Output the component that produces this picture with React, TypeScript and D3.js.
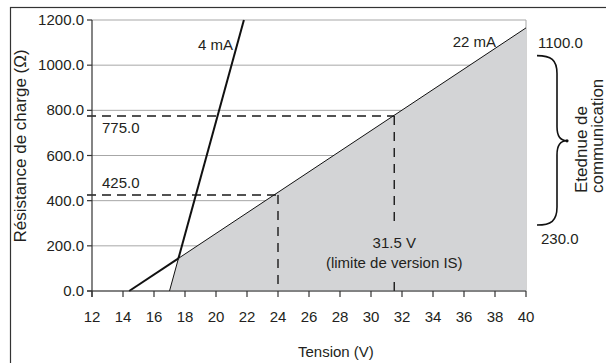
import React from "react";
import * as d3 from "d3";

// values
const xTicks = [12, 14, 16, 18, 20, 22, 24, 26, 28, 30, 32, 34, 36, 38, 40];
const yTicks = [0, 200, 400, 600, 800, 1000, 1200];
const line22mA = [
  { v: 14.4, r: 0 },
  { v: 40, r: 1165 },
];
const line4mA = [
  { v: 17, r: 0 },
  { v: 21.8, r: 1200 },
];
const markers = [
  { v: 24, r: 425, label: "425.0" },
  { v: 31.5, r: 775, label: "775.0" },
];
const commRange = [230, 1100];

const W = 606;
const H = 363;
const margin = { top: 20, right: 80, bottom: 72, left: 92 };
const FONT = "'Liberation Sans', Arial, sans-serif";
const TXT = "#231f20";

const App = () => {
  const x = d3
    .scaleLinear()
    .domain([12, 40])
    .range([margin.left, W - margin.right]);
  const y = d3
    .scaleLinear()
    .domain([0, 1200])
    .range([H - margin.bottom, margin.top]);

  // where the two lines cross
  const s22 = (line22mA[1].r - line22mA[0].r) / (line22mA[1].v - line22mA[0].v);
  const s4 = (line4mA[1].r - line4mA[0].r) / (line4mA[1].v - line4mA[0].v);
  const iv = (s22 * line22mA[0].v - s4 * line4mA[0].v) / (s22 - s4);
  const cross = { v: iv, r: s22 * (iv - line22mA[0].v) };

  const line = d3
    .line<{ v: number; r: number }>()
    .x((d) => x(d.v))
    .y((d) => y(d.r));

  const area = [line4mA[0], cross, line22mA[1], { v: 40, r: 0 }];

  const x0 = x(12);
  const x1 = x(40);
  const yb = y(0);

  // brace
  const bx = 537;
  const by0 = y(commRange[1]) + 13;
  const by1 = y(commRange[0]) - 14;
  const bm = y((commRange[0] + commRange[1]) / 2);
  const brace = `M${bx},${by0} C${bx + 14},${by0} ${bx + 20},${by0 + 4} ${bx + 20},${by0 + 18} L${bx + 20},${bm - 14} C${bx + 20},${bm - 4} ${bx + 24},${bm} ${bx + 30},${bm} C${bx + 24},${bm} ${bx + 20},${bm + 4} ${bx + 20},${bm + 14} L${bx + 20},${by1 - 18} C${bx + 20},${by1 - 4} ${bx + 14},${by1} ${bx},${by1}`;

  const isMark = markers[1];
  const dash = { stroke: "#1a1a1a", strokeWidth: 1.4, strokeDasharray: "9,6" };

  return (
    <svg
      width={W}
      height={H}
      style={{ position: "absolute", left: 0, top: 0, background: "#fff" }}
      fontFamily={FONT}
    >
      {/* outer frame */}
      <rect x={10.5} y={7.5} width={W} height={H} fill="none" stroke="#333" strokeWidth={1.2} />

      {/* grid */}
      {yTicks.map((t) => (
        <line key={"g" + t} x1={x0} x2={x1} y1={y(t)} y2={y(t)} stroke="#a7a7a7" strokeWidth={1} />
      ))}
      <line x1={x1} x2={x1} y1={y(1200)} y2={yb} stroke="#a7a7a7" strokeWidth={1} />

      {/* shaded operating region */}
      <path d={line(area) + "Z"} fill="#d3d4d6" />

      {/* dashed markers */}
      {markers.map((m) => (
        <line key={"h" + m.r} x1={x0 - 5} x2={x(m.v)} y1={y(m.r)} y2={y(m.r)} {...dash} />
      ))}
      <line x1={x(markers[0].v)} x2={x(markers[0].v)} y1={y(markers[0].r)} y2={yb} {...dash} strokeDasharray="9,7" />
      <line x1={x(isMark.v)} x2={x(isMark.v)} y1={y(isMark.r)} y2={228} {...dash} strokeDasharray="9,7" />
      <line x1={x(isMark.v)} x2={x(isMark.v)} y1={282} y2={yb} {...dash} strokeDasharray="none" />

      {/* lines */}
      <path d={line([line22mA[0], cross]) || ""} fill="none" stroke="#111" strokeWidth={2} />
      <path d={line([cross, line22mA[1]]) || ""} fill="none" stroke="#111" strokeWidth={1} />
      <path d={line([line4mA[0], cross]) || ""} fill="none" stroke="#111" strokeWidth={1} />
      <path d={line([cross, line4mA[1]]) || ""} fill="none" stroke="#111" strokeWidth={2} />

      {/* axes */}
      <line x1={x0} x2={x0} y1={y(1200)} y2={yb + 6} stroke="#333" strokeWidth={1.2} />
      <line x1={x0 - 5} x2={x1} y1={yb} y2={yb} stroke="#333" strokeWidth={1.2} />
      {yTicks.map((t) => (
        <g key={"y" + t}>
          <line x1={x0 - 5} x2={x0} y1={y(t)} y2={y(t)} stroke="#333" strokeWidth={1.2} />
          <text x={x0 - 8} y={y(t) + 5} textAnchor="end" fontSize={15} fill={TXT}>
            {t.toFixed(1)}
          </text>
        </g>
      ))}
      {xTicks.map((t) => (
        <g key={"x" + t}>
          <line x1={x(t)} x2={x(t)} y1={yb} y2={yb + 6} stroke="#333" strokeWidth={1.2} />
          <text x={x(t)} y={yb + 31} textAnchor="middle" fontSize={15} fill={TXT}>
            {t}
          </text>
        </g>
      ))}

      {/* axis titles */}
      <text x={298} y={357} fontSize={15} fill={TXT}>
        Tension (V)
      </text>
      <text
        transform={`translate(26,${(50 + 242) / 2}) rotate(-90)`}
        textAnchor="middle"
        fontSize={17}
        fill={TXT}
      >
        Résistance de charge (Ω)
      </text>

      {/* labels */}
      <text x={198} y={50} fontSize={15} fill={TXT}>4 mA</text>
      <text x={496} y={47} textAnchor="end" fontSize={15} fill={TXT}>22 mA</text>
      {markers.map((m) => (
        <text key={"l" + m.r} x={102} y={y(m.r) + (m.r === 775 ? 17 : -7)} fontSize={15} fill={TXT}>
          {m.label}
        </text>
      ))}
      <text x={x(isMark.v)} y={248} textAnchor="middle" fontSize={15} fill={TXT}>
        31.5 V
      </text>
      <text x={x(isMark.v)} y={268} textAnchor="middle" fontSize={15} fill={TXT}>
        (limite de version IS)
      </text>

      {/* communication range */}
      <text x={538} y={y(commRange[1]) + 5} fontSize={15} fill={TXT}>
        {commRange[1].toFixed(1)}
      </text>
      <text x={541} y={y(commRange[0]) + 5} fontSize={15} fill={TXT}>
        {commRange[0].toFixed(1)}
      </text>
      <path d={brace} fill="none" stroke="#111" strokeWidth={1.6} />
      <circle cx={bx + 30} cy={bm} r={1.6} fill="#111" />
      <text transform={`translate(587,193) rotate(-90)`} fontSize={17} fill={TXT}>
        Etednue de
      </text>
      <text transform={`translate(603,193) rotate(-90)`} fontSize={17} fill={TXT}>
        communication
      </text>
    </svg>
  );
};

export default App;
